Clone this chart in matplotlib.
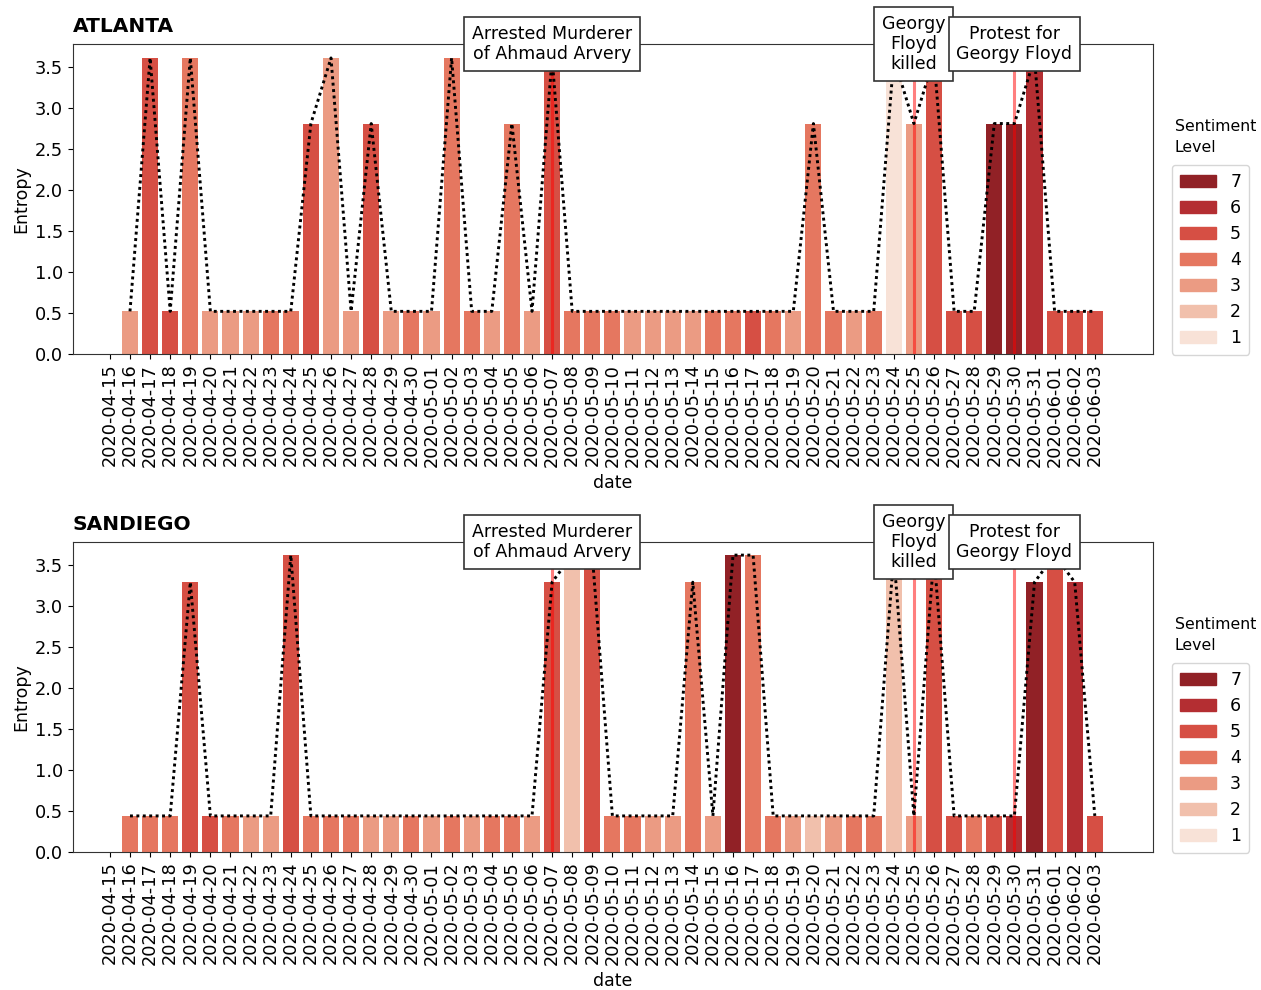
import colorsys
import numpy as np
import pandas as pd
import matplotlib
matplotlib.use("Agg")
import matplotlib.pyplot as plt
from matplotlib.patches import Patch

dates = [d.strftime("%Y-%m-%d") for d in pd.date_range("2020-04-15", "2020-06-03")]

nan = np.nan
# ATLANTA
atl_entropy = [nan, 0.52, 3.61, 0.52, 3.61, 0.52, 0.52, 0.52, 0.52, 0.52,
               2.81, 3.61, 0.52, 2.81, 0.52, 0.52, 0.52, 3.61, 0.52, 0.52,
               2.81, 0.52, 3.61, 0.52, 0.52, 0.52, 0.52, 0.52, 0.52, 0.52,
               0.52, 0.52, 0.52, 0.52, 0.52, 2.81, 0.52, 0.52, 0.52, 3.61,
               2.81, 3.61, 0.52, 0.52, 2.81, 2.81, 3.61, 0.52, 0.52, 0.52]
atl_level = [0, 3, 5, 5, 4, 3, 3, 3, 4, 4,
             5, 3, 3, 5, 3, 4, 3, 4, 4, 3,
             4, 3, 5, 4, 4, 4, 3, 3, 3, 3,
             4, 4, 5, 4, 3, 4, 4, 3, 4, 1,
             3, 5, 5, 5, 7, 7, 6, 5, 5, 5]
# SANDIEGO
sd_entropy = [nan, 0.44, 0.44, 0.44, 3.29, 0.44, 0.44, 0.44, 0.44, 3.62,
              0.44, 0.44, 0.44, 0.44, 0.44, 0.44, 0.44, 0.44, 0.44, 0.44,
              0.44, 0.44, 3.29, 3.62, 3.62, 0.44, 0.44, 0.44, 0.44, 3.29,
              0.44, 3.62, 3.62, 0.44, 0.44, 0.44, 0.44, 0.44, 0.44, 3.62,
              0.44, 3.62, 0.44, 0.44, 0.44, 0.44, 3.29, 3.62, 3.29, 0.44]
sd_level = [0, 4, 4, 4, 5, 5, 4, 3, 3, 5,
            4, 4, 4, 3, 3, 4, 3, 4, 3, 4,
            4, 3, 5, 2, 5, 4, 4, 3, 3, 4,
            3, 7, 4, 4, 3, 2, 3, 4, 4, 2,
            3, 5, 5, 4, 5, 6, 7, 5, 6, 5]

levels = [1, 2, 3, 4, 5, 6, 7]
events = [("2020-05-07", "Arrested Murderer\nof Ahmaud Arvery"),
          ("2020-05-25", "Georgy\nFloyd\nkilled"),
          ("2020-05-30", "Protest for\nGeorgy Floyd")]
cities = [("ATLANTA", atl_entropy, atl_level), ("SANDIEGO", sd_entropy, sd_level)]


def desat(c, prop=0.75):
    h, l, s = colorsys.rgb_to_hls(*c[:3])
    return colorsys.hls_to_rgb(h, l, s * prop)


cmap = plt.get_cmap("Reds")
bins = np.linspace(0, 1, len(levels) + 2)[1:-1]
palette = {lv: desat(cmap(b)) for lv, b in zip(levels, bins)}

W, H = 1261, 990
fig = plt.figure(figsize=(W / 100, H / 100), dpi=100)
plt.rcParams["font.family"] = "DejaVu Sans"

ax_rects = [(72.7, 44, 1152.5, 354), (72.7, 542, 1152.5, 852)]
legend_tops = [165, 663]
title_tops = [119, 617]

x = np.arange(len(dates))
for (name, ent, lev), (l, t, r, b), lt, tt in zip(cities, ax_rects, legend_tops, title_tops):
    ax = fig.add_axes([l / W, 1 - b / H, (r - l) / W, (b - t) / H])
    ent = np.array(ent, dtype=float)
    cols = [palette[v] if v in palette else (1, 1, 1) for v in lev]
    mask = ~np.isnan(ent)
    ax.bar(x[mask], ent[mask], width=0.8, color=[c for c, m in zip(cols, mask) if m],
           zorder=2)
    for d, _ in events:
        ax.axvline(dates.index(d), color="red", alpha=0.5, lw=2.2, zorder=3)
    ax.plot(x[mask], ent[mask], color="black", linestyle=(0, (1, 1.2)), lw=2.1,
            zorder=4)
    for d, txt in events:
        ax.text(dates.index(d), 1.0, txt, transform=ax.get_xaxis_transform(),
                ha="center", va="center", fontsize=12.5, zorder=6, linespacing=1.15,
                bbox=dict(boxstyle="square,pad=0.45", facecolor="white",
                          edgecolor="#333333", lw=1.2))
    ax.set_xlim(-1.85, 51.87)
    ax.set_ylim(0, 3.78)
    ax.set_yticks(np.arange(0, 3.51, 0.5))
    ax.set_xticks(x)
    ax.set_xticklabels(dates, rotation=90, fontsize=12.8)
    ax.tick_params(axis="y", labelsize=12.8)
    ax.set_xlabel("date", fontsize=12.5, labelpad=5)
    ax.set_ylabel("Entropy", fontsize=12.5, labelpad=3)
    ax.set_title(name, loc="left", fontsize=14.5, fontweight="bold", pad=9)
    for s in ax.spines.values():
        s.set_color("#333333")

    handles = [Patch(facecolor=palette[lv], edgecolor=palette[lv]) for lv in levels[::-1]]
    fig.legend(handles, [str(lv) for lv in levels[::-1]], loc="upper left",
               bbox_to_anchor=(1172 / W, 1 - lt / H), fontsize=12.5,
               handlelength=2.1, handleheight=0.7, labelspacing=0.46,
               handletextpad=0.8, borderpad=0.45, borderaxespad=0.0, frameon=True)
    fig.text(1175 / W, 1 - tt / H, "Sentiment\nLevel", ha="left", va="top",
             fontsize=11.3, linespacing=1.5)

fig.savefig("out.png", dpi=100)
